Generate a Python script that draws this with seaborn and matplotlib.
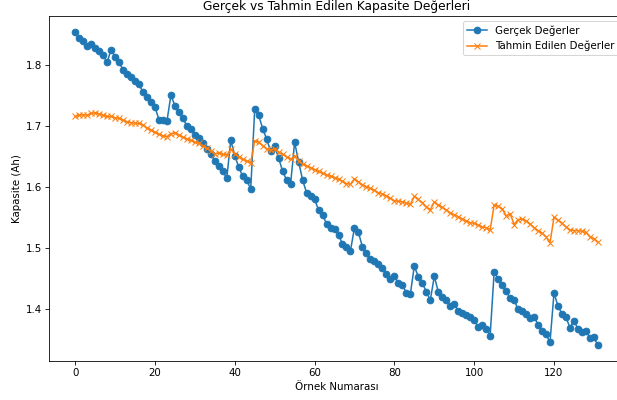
import numpy as np
import matplotlib
matplotlib.use("Agg")
import matplotlib.pyplot as plt
import seaborn as sns

# Gerçek kapasite değerleri (Ah)
gercek = [
    1.855, 1.844, 1.840, 1.832, 1.835, 1.829, 1.823, 1.816, 1.805, 1.825,
    1.814, 1.806, 1.792, 1.785, 1.781, 1.774, 1.769, 1.756, 1.748, 1.740,
    1.732, 1.711, 1.710, 1.708, 1.751, 1.734, 1.723, 1.714, 1.700, 1.695,
    1.686, 1.680, 1.672, 1.663, 1.654, 1.643, 1.635, 1.626, 1.615, 1.677,
    1.652, 1.633, 1.618, 1.612, 1.597, 1.728, 1.718, 1.696, 1.679, 1.659,
    1.667, 1.648, 1.626, 1.612, 1.606, 1.674, 1.642, 1.612, 1.591, 1.585,
    1.580, 1.563, 1.555, 1.540, 1.533, 1.531, 1.522, 1.507, 1.502, 1.496,
    1.534, 1.526, 1.502, 1.493, 1.483, 1.480, 1.474, 1.467, 1.458, 1.450,
    1.454, 1.443, 1.440, 1.427, 1.425, 1.471, 1.453, 1.443, 1.429, 1.415,
    1.454, 1.429, 1.420, 1.415, 1.405, 1.409, 1.397, 1.394, 1.390, 1.387,
    1.383, 1.371, 1.374, 1.368, 1.357, 1.461, 1.450, 1.440, 1.430, 1.418,
    1.415, 1.400, 1.398, 1.393, 1.386, 1.388, 1.375, 1.364, 1.359, 1.346,
    1.427, 1.405, 1.393, 1.387, 1.370, 1.381, 1.368, 1.363, 1.365, 1.353,
    1.354, 1.341,
]

# Model tahminleri (Ah)
tahmin = [
    1.716, 1.718, 1.719, 1.718, 1.721, 1.722, 1.720, 1.718, 1.716, 1.716,
    1.714, 1.713, 1.710, 1.707, 1.706, 1.705, 1.705, 1.702, 1.697, 1.694,
    1.690, 1.687, 1.684, 1.683, 1.688, 1.689, 1.686, 1.682, 1.679, 1.677,
    1.674, 1.672, 1.668, 1.664, 1.660, 1.655, 1.656, 1.654, 1.653, 1.662,
    1.655, 1.650, 1.646, 1.643, 1.640, 1.676, 1.674, 1.668, 1.663, 1.661,
    1.663, 1.657, 1.654, 1.650, 1.646, 1.651, 1.643, 1.638, 1.635, 1.632,
    1.629, 1.626, 1.623, 1.620, 1.618, 1.616, 1.613, 1.610, 1.606, 1.605,
    1.614, 1.609, 1.604, 1.601, 1.598, 1.595, 1.591, 1.589, 1.586, 1.582,
    1.578, 1.577, 1.576, 1.574, 1.572, 1.585, 1.580, 1.575, 1.568, 1.563,
    1.576, 1.571, 1.567, 1.563, 1.558, 1.555, 1.552, 1.548, 1.545, 1.542,
    1.541, 1.538, 1.535, 1.534, 1.530, 1.571, 1.569, 1.565, 1.553, 1.557,
    1.539, 1.547, 1.548, 1.545, 1.540, 1.534, 1.529, 1.525, 1.519, 1.509,
    1.551, 1.546, 1.541, 1.535, 1.530, 1.529, 1.529, 1.528, 1.526, 1.519,
    1.516, 1.510,
]

ornek = np.arange(len(gercek))

# 617x400 px
dpi = 73.5
fig = plt.figure(figsize=(617 / dpi, 400 / dpi), dpi=dpi)
ax = fig.add_axes([0.0794, 0.0975, 0.932, 0.8625])

sns.lineplot(x=ornek, y=gercek, ax=ax, color="#1f77b4", marker="o",
             markersize=6.5, markeredgecolor="#1f77b4", markeredgewidth=1,
             linewidth=1.5, label="Gerçek Değerler", sort=False)
sns.lineplot(x=ornek, y=tahmin, ax=ax, color="#ff7f0e", marker="x",
             markersize=6.5, markeredgecolor="#ff7f0e", markeredgewidth=1,
             linewidth=1.5, label="Tahmin Edilen Değerler", sort=False)

ax.set_title("Gerçek vs Tahmin Edilen Kapasite Değerleri")
ax.set_xlabel("Örnek Numarası")
ax.set_ylabel("Kapasite (Ah)")
ax.legend(loc="upper right")

fig.savefig("out.png", dpi=dpi)
